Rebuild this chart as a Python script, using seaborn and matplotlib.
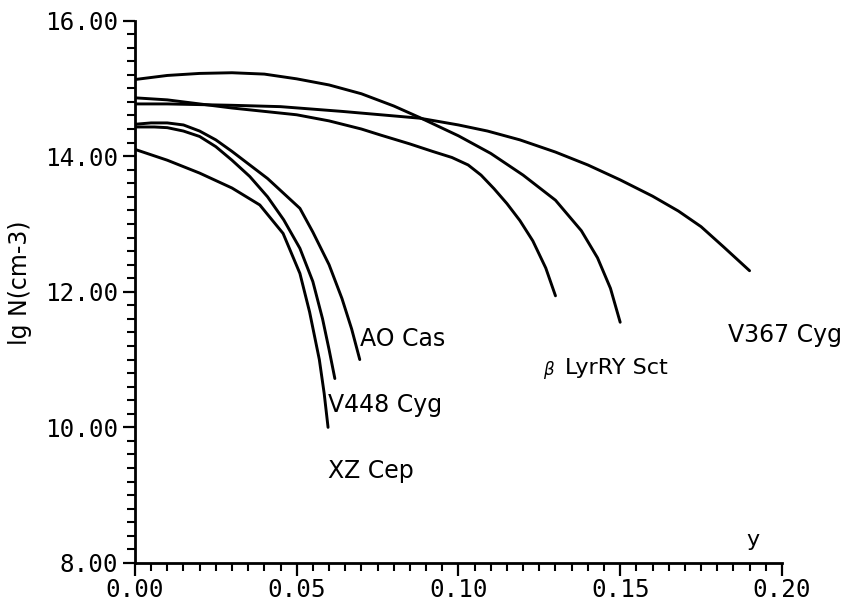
import matplotlib
matplotlib.use("Agg")
import matplotlib.pyplot as plt
from matplotlib.ticker import MultipleLocator, FormatStrFormatter
import seaborn as sns
import pandas as pd

# ---- data ----
ry_sct_x = [0.000, 0.010, 0.020, 0.030, 0.040, 0.050, 0.060, 0.070, 0.080, 0.088,
            0.100, 0.110, 0.120, 0.130, 0.138, 0.143, 0.147, 0.150]
ry_sct_y = [15.13, 15.19, 15.22, 15.23, 15.21, 15.14, 15.05, 14.92, 14.74, 14.57,
            14.30, 14.04, 13.72, 13.35, 12.90, 12.50, 12.05, 11.55]

beta_lyr_x = [0.000, 0.010, 0.020, 0.030, 0.040, 0.050, 0.060, 0.070, 0.076, 0.085,
              0.092, 0.098, 0.103, 0.107, 0.111, 0.115, 0.119, 0.123, 0.127, 0.130]
beta_lyr_y = [14.86, 14.83, 14.77, 14.71, 14.66, 14.61, 14.52, 14.40, 14.31, 14.18,
              14.07, 13.98, 13.87, 13.72, 13.52, 13.30, 13.05, 12.75, 12.35, 11.94]

v367_x = [0.000, 0.010, 0.020, 0.030, 0.045, 0.064, 0.088, 0.100, 0.109, 0.119,
          0.130, 0.140, 0.150, 0.160, 0.168, 0.175, 0.182, 0.190]
v367_y = [14.77, 14.77, 14.76, 14.75, 14.73, 14.66, 14.56, 14.46, 14.37, 14.24,
          14.06, 13.87, 13.65, 13.41, 13.19, 12.96, 12.66, 12.31]

ao_cas_x = [0.000, 0.005, 0.010, 0.015, 0.020, 0.025, 0.030, 0.0355, 0.041, 0.046,
            0.051, 0.055, 0.060, 0.064, 0.067, 0.0695]
ao_cas_y = [14.47, 14.49, 14.49, 14.46, 14.37, 14.24, 14.07, 13.87, 13.67, 13.45,
            13.23, 12.88, 12.40, 11.90, 11.45, 11.00]

v448_x = [0.000, 0.006, 0.010, 0.015, 0.020, 0.025, 0.030, 0.0355, 0.041, 0.046,
          0.051, 0.055, 0.058, 0.060, 0.0618]
v448_y = [14.43, 14.43, 14.42, 14.37, 14.29, 14.14, 13.94, 13.70, 13.40, 13.06,
          12.64, 12.15, 11.60, 11.15, 10.72]

xz_cep_x = [0.000, 0.010, 0.020, 0.030, 0.0386, 0.0458, 0.051, 0.054, 0.057, 0.0585, 0.0597]
xz_cep_y = [14.10, 13.94, 13.75, 13.53, 13.28, 12.86, 12.27, 11.70, 11.00, 10.50, 10.00]

star_names = ["RY Sct", "beta Lyr", "V367 Cyg", "AO Cas", "V448 Cyg", "XZ Cep"]
series_x = [ry_sct_x, beta_lyr_x, v367_x, ao_cas_x, v448_x, xz_cep_x]
series_y = [ry_sct_y, beta_lyr_y, v367_y, ao_cas_y, v448_y, xz_cep_y]

x_ticks = [0.00, 0.05, 0.10, 0.15, 0.20]
y_ticks = [8.0, 10.0, 12.0, 14.0, 16.0]

rows = []
for name, xs, ys in zip(star_names, series_x, series_y):
    for xv, yv in zip(xs, ys):
        rows.append({"x": xv, "y": yv, "star": name})
df = pd.DataFrame(rows)

# ---- style ----
sns.set_style("ticks")
plt.rcParams["font.family"] = ["DejaVu Sans"]

fig = plt.figure(figsize=(8.54, 6.11), dpi=100)
ax = fig.add_axes([0.158, 0.0786, 0.7576, 0.8878])

sns.lineplot(data=df, x="x", y="y", units="star", estimator=None, sort=False,
             color="black", linewidth=2.1, ax=ax, legend=False)

ax.set_xlim(0.0, 0.2)
ax.set_ylim(8.0, 16.0)
ax.set_xticks(x_ticks)
ax.set_yticks(y_ticks)
ax.xaxis.set_minor_locator(MultipleLocator(0.005))
ax.yaxis.set_minor_locator(MultipleLocator(0.2))
ax.xaxis.set_major_formatter(FormatStrFormatter("%.2f"))
ax.yaxis.set_major_formatter(FormatStrFormatter("%.2f"))

sns.despine(ax=ax)
for side in ["left", "bottom"]:
    ax.spines[side].set_linewidth(2.0)
    ax.spines[side].set_color("black")

ax.tick_params(which="major", direction="out", length=9, width=1.6, color="black")
ax.tick_params(which="minor", direction="out", length=5.5, width=1.5, color="black")
ax.tick_params(axis="x", which="major", pad=1.5)
ax.tick_params(axis="y", which="major", pad=3)
for lab in ax.get_xticklabels() + ax.get_yticklabels():
    lab.set_family("DejaVu Sans Mono")
    lab.set_fontsize(17.5)
    lab.set_color("black")

ax.set_ylabel("lg N(cm-3)", fontsize=17, color="black", va="center")
ax.yaxis.set_label_coords(-0.178, 0.516)
ax.set_xlabel("y", fontsize=16, color="black", va="center")
ax.xaxis.set_label_coords(0.955, 0.042)

lab_kw = dict(fontsize=17, color="black", ha="left", va="center")
ax.text(0.0697, 11.30, "AO Cas", **lab_kw)
ax.text(0.0597, 10.33, "V448 Cyg", **lab_kw)
ax.text(0.0597, 9.36, "XZ Cep", **lab_kw)
ax.text(0.1833, 11.36, "V367 Cyg", **lab_kw)
ax.text(0.1262, 10.85, "β", fontsize=12, style="italic", color="black",
        ha="left", va="center")
ax.text(0.1329, 10.87, "LyrRY Sct", fontsize=16, color="black",
        ha="left", va="center")

fig.savefig("out.png", dpi=100)
